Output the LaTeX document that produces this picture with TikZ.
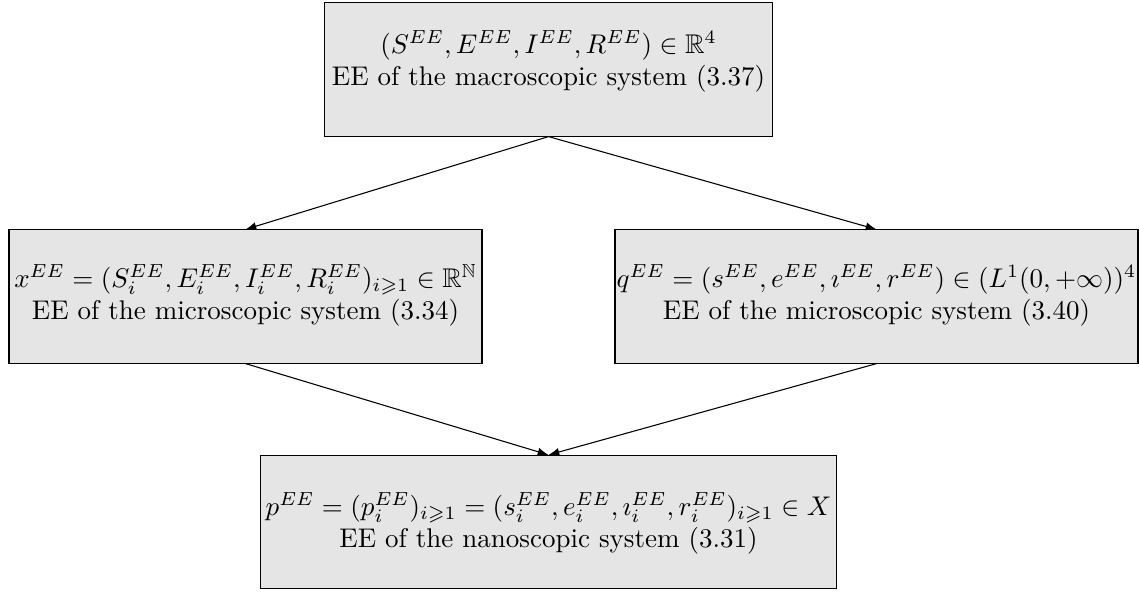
\documentclass[tikz,border=0pt]{standalone}
\usepackage{amsmath,amssymb}
\usetikzlibrary{arrows.meta}
\begin{document}
\begin{tikzpicture}[x=0.37037pt,y=-0.37037pt,
  box/.style={draw=black, fill=gray!20, line width=0.4pt, inner sep=0pt, minimum height=49.3pt},
  lbl/.style={align=center, inner sep=0pt},
  conn/.style={line width=0.4pt, -{Latex[length=4pt,width=3pt]}}]
\useasboundingbox (0,0) rectangle (1139,594);
% boxes
\node[box, minimum width=165.6pt] (top) at (548.5,69.5) {};
\node[box, minimum width=175.2pt] (left) at (245.5,296.5) {};
\node[box, minimum width=193.7pt] (right) at (876.5,296.5) {};
\node[box, minimum width=213pt] (bottom) at (548.5,522) {};
% texts
\node[lbl] (toptext) at ([yshift=3pt]top.center) {$(S^{EE},E^{EE},I^{EE},R^{EE})\in\mathbb{R}^4$\\EE of the macroscopic system (3.37)};
\node[lbl] (lefttext) at ([yshift=0.4pt]left.center) {$x^{EE}=(S_i^{EE},E_i^{EE},I_i^{EE},R_i^{EE})_{i\geqslant 1}\in\mathbb{R}^{\mathbb{N}}$\\EE of the microscopic system (3.34)};
\node[lbl] (righttext) at ([yshift=0.4pt]right.center) {$q^{EE}=(s^{EE},e^{EE},\imath^{EE},r^{EE})\in(L^1(0,+\infty))^4$\\EE of the microscopic system (3.40)};
\node[lbl] (bottomtext) at ([yshift=-0.5pt]bottom.center) {$p^{EE}=(p_i^{EE})_{i\geqslant 1}=(s_i^{EE},e_i^{EE},\imath_i^{EE},r_i^{EE})_{i\geqslant 1}\in X$\\EE of the nanoscopic system (3.31)};
% connectors
\draw[conn] (top.south) -- (left.north);
\draw[conn] (top.south) -- (right.north);
\draw[conn] (left.south) -- (bottom.north);
\draw[conn] (right.south) -- (bottom.north);
\end{tikzpicture}
\end{document}
